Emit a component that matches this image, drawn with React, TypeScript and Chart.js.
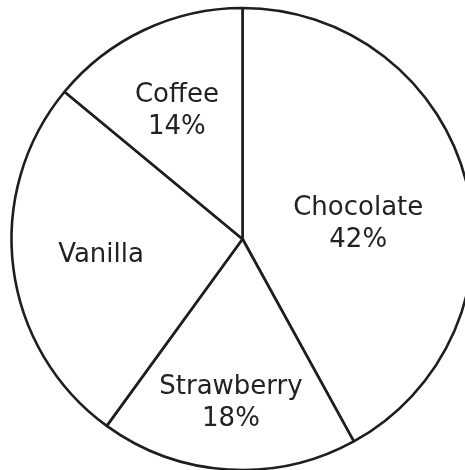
import { useEffect, useRef } from 'react';
import { Chart, registerables } from 'chart.js';

Chart.register(...registerables);

const categories = ['Chocolate', 'Strawberry', 'Vanilla', 'Coffee'];
const values = [42, 18, 26, 14];
const percentLabels = ['42%', '18%', '', '14%'];

// label placement (fraction of radius, angular nudge in degrees)
const labelRadius = [0.507, 0.699, 0.615, 0.634];
const labelAngleShift = [5.5, 0.5, 2, -1.4];

const labelPlugin = {
  id: 'sliceLabels',
  afterDatasetsDraw(chart: any) {
    const meta = chart.getDatasetMeta(0);
    const ctx = chart.ctx;
    ctx.save();
    ctx.font = '26px "DejaVu Sans"';
    ctx.fillStyle = '#222222';
    ctx.textAlign = 'center';
    ctx.textBaseline = 'alphabetic';
    meta.data.forEach((el: any, i: number) => {
      const { x, y, startAngle, endAngle, outerRadius } = el.getProps(
        ['x', 'y', 'startAngle', 'endAngle', 'outerRadius'],
        true
      );
      const mid = (startAngle + endAngle) / 2 + (labelAngleShift[i] * Math.PI) / 180;
      const r = outerRadius * labelRadius[i];
      const px = x + Math.cos(mid) * r;
      const py = y + Math.sin(mid) * r;
      const name = chart.data.labels[i];
      const pct = percentLabels[i];
      if (pct) {
        ctx.fillText(name, px, py - 6);
        ctx.fillText(pct, px, py + 26);
      } else {
        ctx.fillText(name, px, py + 10);
      }
    });
    ctx.restore();
  },
};

export default function App() {
  const ref = useRef<HTMLCanvasElement>(null);
  useEffect(() => {
    if (!ref.current) return;
    const chart = new Chart(ref.current, {
      type: 'pie',
      data: {
        labels: categories,
        datasets: [
          {
            data: values,
            backgroundColor: '#ffffff',
            borderColor: '#1e1e1e',
            borderWidth: 2.6,
          },
        ],
      },
      options: {
        responsive: false,
        animation: false,
        radius: 231,
        layout: { padding: 0 },
        plugins: {
          legend: { display: false },
          tooltip: { enabled: false },
        },
      } as any,
      plugins: [labelPlugin],
    });
    return () => chart.destroy();
  }, []);
  return (
    <div
      style={{
        position: 'fixed',
        left: 0,
        top: 0,
        width: 465,
        height: 470,
        overflow: 'hidden',
        background: '#ffffff',
      }}
    >
      <canvas
        ref={ref}
        width={485}
        height={478}
        style={{ position: 'absolute', left: 0, top: 0 }}
      />
    </div>
  );
}
